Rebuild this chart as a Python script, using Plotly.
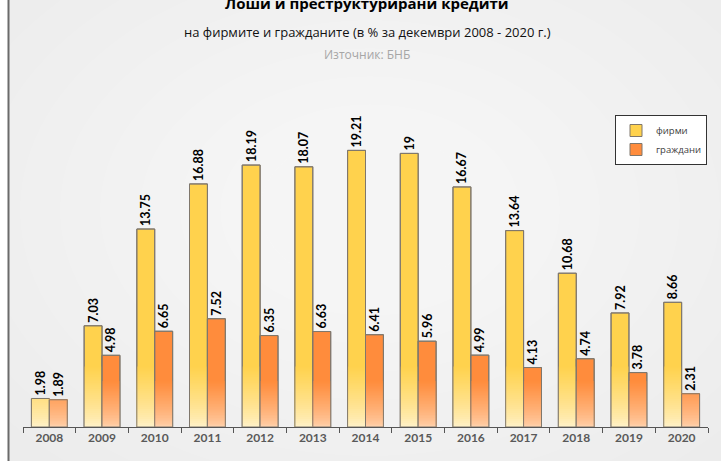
import plotly.graph_objects as go
import numpy as np

years = ["2008", "2009", "2010", "2011", "2012", "2013", "2014",
         "2015", "2016", "2017", "2018", "2019", "2020"]
firms = [1.98, 7.03, 13.75, 16.88, 18.19, 18.07, 19.21, 19.0, 16.67, 13.64, 10.68, 7.92, 8.66]
households = [1.89, 4.98, 6.65, 7.52, 6.35, 6.63, 6.41, 5.96, 4.99, 4.13, 4.74, 3.78, 2.31]

series_names = ["фирми", "граждани"]
title_text = "Лоши и преструктурирани кредити"
subtitle_text = "на фирмите и гражданите (в % за декември 2008 - 2020 г.)"
source_text = "Източник: БНБ"

W, H = 721, 461
ML, MR, MT, MB = 23, 13, 139, 34
BAR_W = 0.34


def hex2rgb(h):
    h = h.lstrip("#")
    return [int(h[i:i + 2], 16) for i in (0, 2, 4)]


def lerp(c1, c2, t):
    a, b = hex2rgb(c1), hex2rgb(c2)
    return "rgb(%d,%d,%d)" % tuple(round(a[i] + (b[i] - a[i]) * t) for i in range(3))


styles = [
    dict(top="#FFD24D", bottom="#FFF2CC", offset=-BAR_W, span=4.2),
    dict(top="#FF8C3C", bottom="#FFD3AE", offset=0.0, span=3.2),
]

fig = go.Figure()

for vals, name, st in zip([firms, households], series_names, styles):
    # full coloured bar (also legend entry)
    fig.add_trace(go.Bar(
        x=years, y=vals, name=name, width=BAR_W, offset=st["offset"],
        marker=dict(color=st["top"], line=dict(color="#7f776c", width=1)),
        hoverinfo="skip", showlegend=True,
    ))
    # gradient overlay: shorter bars drawn on top with lighter colours
    n = 30
    levels = np.linspace(0, st["span"], n + 1)[1:][::-1]
    step = st["span"] / n
    for L in levels:
        t = (L - step / 2) / st["span"]
        t = t ** 0.75
        fig.add_trace(go.Bar(
            x=years, y=[min(v, L) for v in vals], width=BAR_W, offset=st["offset"],
            marker=dict(color=lerp(st["bottom"], st["top"], t), line=dict(width=0)),
            hoverinfo="skip", showlegend=False,
        ))
    # outline + data labels on top
    fig.add_trace(go.Bar(
        x=years, y=vals, width=BAR_W, offset=st["offset"],
        marker=dict(color="rgba(0,0,0,0)", line=dict(color="#7f776c", width=1)),
        text=[f"{v:g}" for v in vals], textposition="outside", textangle=-90,
        constraintext="none",
        textfont=dict(family="Lato, Arial", size=12.5, color="#000000", weight="bold"),
        cliponaxis=False, hoverinfo="skip", showlegend=False,
    ))

ph = H - MT - MB


def py(p):
    return (H - MB - p) / ph


def px(p):
    return (p - ML) / (W - ML - MR)


shapes = []
# soft radial light in the background
cx, cy = 370, 210
for k in range(10):
    rx = 470 - k * 40
    ry = 330 - k * 28
    shapes.append(dict(type="circle", xref="paper", yref="paper",
                       x0=px(cx - rx), x1=px(cx + rx), y0=py(cy + ry), y1=py(cy - ry),
                       fillcolor="rgba(255,255,255,0.09)", line=dict(width=0), layer="below"))
# white strip and left border line
shapes.append(dict(type="rect", xref="paper", yref="paper", x0=px(-5), x1=px(8), y0=py(470), y1=py(-10),
                   fillcolor="#ffffff", line=dict(width=0), layer="below"))
shapes.append(dict(type="line", xref="paper", yref="paper", x0=px(8.5), x1=px(8.5), y0=py(470), y1=py(-10),
                   line=dict(color="#6b6b6b", width=2)))
# legend shadow
shapes.append(dict(type="rect", xref="paper", yref="paper", x0=px(618), x1=px(703), y0=py(163), y1=py(118),
                   fillcolor="rgba(0,0,0,0.10)", line=dict(width=0), layer="below"))

annotations = [
    dict(text="<b>" + title_text + "</b>", x=px(367), y=py(3), xref="paper", yref="paper",
         showarrow=False, yanchor="middle", font=dict(family="Open Sans, Arial", size=15, color="#000")),
    dict(text=subtitle_text, x=px(367), y=py(32), xref="paper", yref="paper",
         showarrow=False, yanchor="middle", font=dict(family="Open Sans, Arial", size=13, color="#111")),
    dict(text=source_text, x=px(367), y=py(54), xref="paper", yref="paper",
         showarrow=False, yanchor="middle", font=dict(family="Open Sans, Arial", size=12, color="#a6a6a6")),
]

fig.update_layout(
    width=W, height=H,
    margin=dict(l=ML, r=MR, t=MT, b=MB, pad=0, autoexpand=False),
    barmode="overlay",
    paper_bgcolor="#ececec",
    plot_bgcolor="rgba(0,0,0,0)",
    shapes=shapes,
    annotations=annotations,
    showlegend=True,
    legend=dict(
        xref="paper", yref="paper",
        x=px(615), y=py(115), xanchor="left", yanchor="top",
        bgcolor="#ffffff", bordercolor="#333333", borderwidth=1,
        font=dict(family="Open Sans, Arial", size=9.5, color="#404040"),
        traceorder="normal", itemwidth=30,
    ),
    xaxis=dict(
        type="category", range=[-0.5, 12.5], showgrid=False,
        showline=True, linecolor="#555555", linewidth=1,
        ticks="outside", tickson="boundaries", ticklen=5, tickcolor="#555555",
        tickfont=dict(family="Lato, Arial", size=12, color="#595959", weight="bold"),
        fixedrange=True,
    ),
    yaxis=dict(visible=False, range=[0, 20], fixedrange=True),
)

fig.write_html("out.html")
